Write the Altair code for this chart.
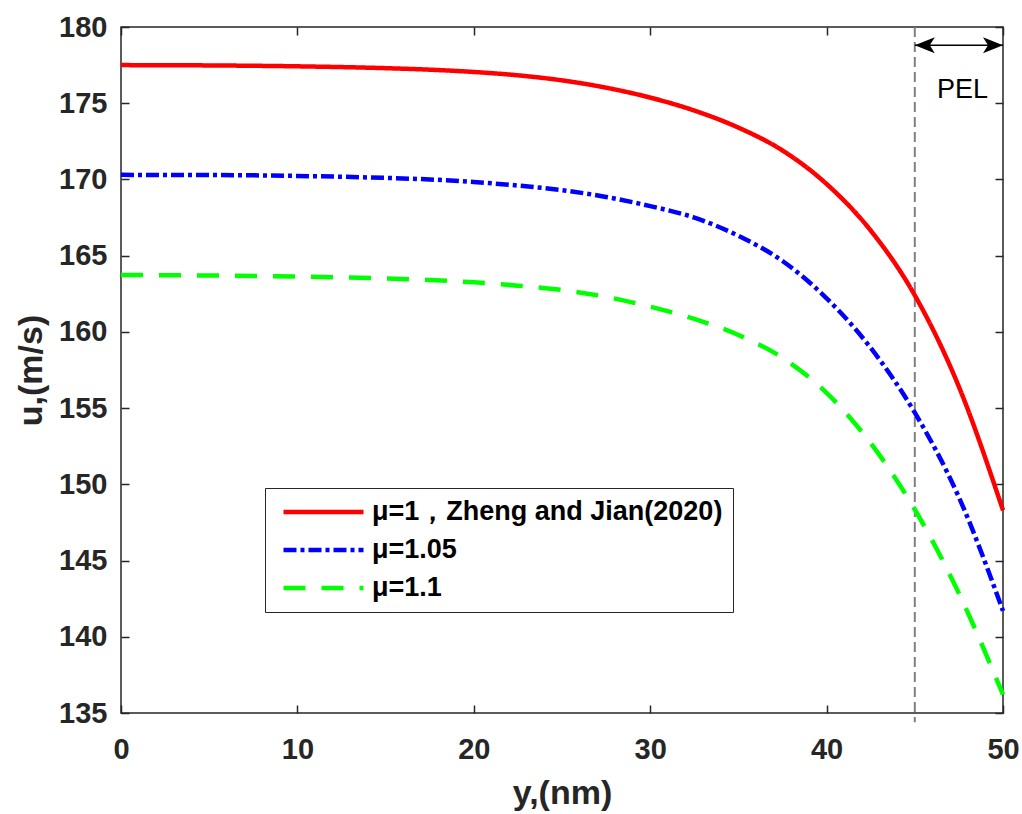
import altair as alt
import pandas as pd

# Velocity profiles u(y) across the channel for three viscosity ratios
y_nm = [0, 5, 10, 15, 17.5, 20, 22.5, 25, 27.5, 30, 32.5, 35, 37.5, 40, 42.5, 45, 47.5, 50]
u_mu100 = [177.50, 177.48, 177.42, 177.30, 177.20, 177.05, 176.83, 176.50, 176.02,
           175.37, 174.52, 173.40, 171.90, 169.70, 166.65, 162.40, 156.40, 148.30]
u_mu105 = [170.30, 170.29, 170.23, 170.10, 170.00, 169.83, 169.60, 169.30, 168.85,
           168.25, 167.50, 166.30, 164.65, 162.20, 158.95, 154.70, 149.15, 141.70]
u_mu110 = [163.73, 163.70, 163.63, 163.50, 163.40, 163.25, 163.03, 162.75, 162.30,
           161.65, 160.85, 159.80, 158.30, 156.00, 152.70, 148.35, 142.85, 136.20]

series_labels = ["μ=1，Zheng and Jian(2020)", "μ=1.05", "μ=1.1"]
series_colors = ["#FF0000", "#0000FF", "#00FF00"]
series_dashes = [[1, 0], [13, 4, 4, 4], [22, 16]]

x_ticks = [0, 10, 20, 30, 40, 50]
y_ticks = [135, 140, 145, 150, 155, 160, 165, 170, 175, 180]

# Physical-effect layer (PEL) marker: boundary line and span arrow
pel_start = 45
pel_end = 50
pel_arrow_u = 178.8
pel_label_x = 47.7
pel_label_u = 175.35
pel_rule_top = 180
pel_rule_bottom = 134.4

FONT = "Liberation Sans"
INK = "#262626"

rows = []
for label, values in zip(series_labels, [u_mu100, u_mu105, u_mu110]):
    for yv, uv in zip(y_nm, values):
        rows.append({"y_nm": yv, "u": uv, "series": label})
df = pd.DataFrame(rows)

x_scale = alt.Scale(domain=[0, 50], nice=False, zero=False)
y_scale = alt.Scale(domain=[135, 180], nice=False, zero=False)

base = alt.Chart(df)

lines = base.mark_line(strokeWidth=4.5, interpolate="monotone").encode(
    x=alt.X("y_nm:Q", scale=x_scale,
            axis=alt.Axis(orient="bottom", values=x_ticks, ticks=False, domain=False,
                          labelPadding=22, title="y,(nm)", titlePadding=12)),
    y=alt.Y("u:Q", scale=y_scale,
            axis=alt.Axis(orient="left", values=y_ticks, ticks=False, domain=False,
                          labelPadding=14, title="u,(m/s)", titlePadding=10)),
    color=alt.Color("series:N", sort=series_labels,
                    scale=alt.Scale(domain=series_labels, range=series_colors),
                    legend=alt.Legend(title=None)),
    strokeDash=alt.StrokeDash("series:N", sort=series_labels,
                              scale=alt.Scale(domain=series_labels, range=series_dashes),
                              legend=alt.Legend(title=None)),
)

# Inward-pointing tick marks on all four sides of the box
ticks_bl = base.mark_point(opacity=0, size=0).encode(
    x=alt.X("y_nm:Q", scale=x_scale,
            axis=alt.Axis(orient="bottom", offset=-8, values=x_ticks, labels=False,
                          domain=False, tickSize=8, title=None)),
    y=alt.Y("u:Q", scale=y_scale,
            axis=alt.Axis(orient="left", offset=-8, values=y_ticks, labels=False,
                          domain=False, tickSize=8, title=None)),
)
ticks_tr = base.mark_point(opacity=0, size=0).encode(
    x=alt.X("y_nm:Q", scale=x_scale,
            axis=alt.Axis(orient="top", offset=-8, values=x_ticks, labels=False,
                          domain=False, tickSize=8, title=None)),
    y=alt.Y("u:Q", scale=y_scale,
            axis=alt.Axis(orient="right", offset=-8, values=y_ticks, labels=False,
                          domain=False, tickSize=8, title=None)),
)

pel_df = pd.DataFrame({
    "x0": [pel_start], "x1": [pel_end], "ua": [pel_arrow_u],
    "top": [pel_rule_top], "bottom": [pel_rule_bottom],
    "lx": [pel_label_x], "lu": [pel_label_u], "text": ["PEL"],
})
pel = alt.Chart(pel_df)

pel_rule = pel.mark_rule(color="#808080", strokeWidth=2, strokeDash=[10, 5]).encode(
    x=alt.X("x0:Q", scale=x_scale, axis=None),
    y=alt.Y("top:Q", scale=y_scale, axis=None),
    y2="bottom:Q",
)
pel_span = pel.mark_rule(color="black", strokeWidth=1.5).encode(
    x=alt.X("x0:Q", scale=x_scale, axis=None),
    x2="x1:Q",
    y=alt.Y("ua:Q", scale=y_scale, axis=None),
)
head_left = pel.mark_point(shape="M0,0L1,-0.4L0.75,0L1,0.4Z", filled=True, size=1600,
                           color="black", opacity=1, strokeWidth=0).encode(
    x=alt.X("x0:Q", scale=x_scale, axis=None),
    y=alt.Y("ua:Q", scale=y_scale, axis=None),
)
head_right = pel.mark_point(shape="M0,0L-1,-0.4L-0.75,0L-1,0.4Z", filled=True, size=1600,
                            color="black", opacity=1, strokeWidth=0).encode(
    x=alt.X("x1:Q", scale=x_scale, axis=None),
    y=alt.Y("ua:Q", scale=y_scale, axis=None),
)
pel_text = pel.mark_text(font=FONT, fontSize=27, color="black", align="center",
                         baseline="alphabetic").encode(
    x=alt.X("lx:Q", scale=x_scale, axis=None),
    y=alt.Y("lu:Q", scale=y_scale, axis=None),
    text="text:N",
)

chart = alt.layer(
    ticks_bl, ticks_tr, pel_rule, lines, pel_span, head_left, head_right, pel_text
).resolve_axis(
    x="independent", y="independent"
).properties(
    width=882, height=686,
    padding={"left": 121, "top": 27, "right": 19, "bottom": 101},
    autosize=alt.AutoSizeParams(type="none"),
    background="white",
).configure_view(
    stroke=INK, strokeWidth=1.5,
).configure_axis(
    grid=False, labelFlush=False, labelFont=FONT, labelFontSize=29,
    labelFontWeight="bold", labelColor=INK, titleFont=FONT, titleFontSize=34,
    titleFontWeight="bold", titleColor=INK, tickColor=INK, tickWidth=1.5,
).configure_legend(
    orient="none", legendX=144, legendY=461, symbolType="stroke",
    symbolSize=6400, symbolStrokeWidth=4.5, symbolOffset=6, labelOffset=6,
    clipHeight=28, rowPadding=10, padding=10,
    labelFont=FONT, labelFontSize=27, labelFontWeight="bold", labelColor="black",
    labelLimit=0, strokeColor=INK, fillColor="white",
)

chart.save("out.html", embed_options={"renderer": "svg", "actions": False})
